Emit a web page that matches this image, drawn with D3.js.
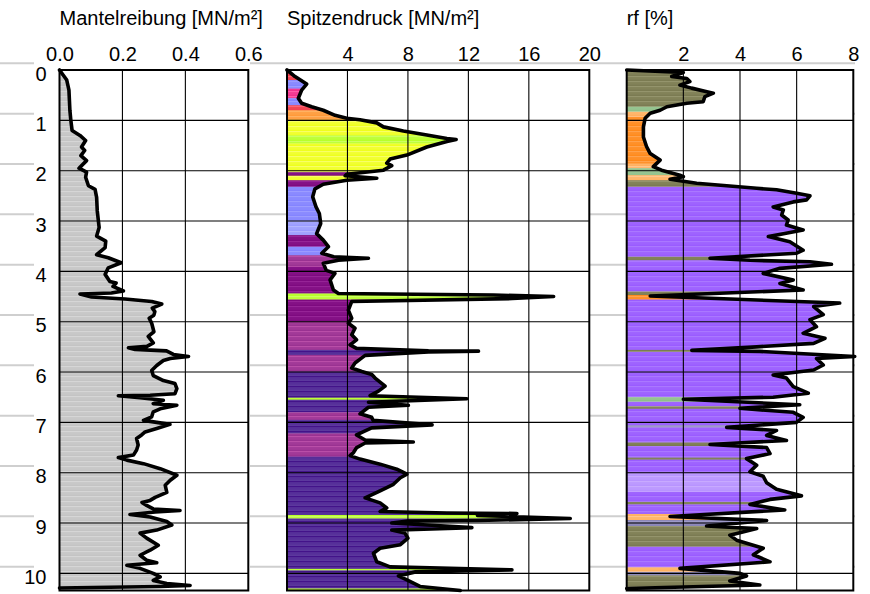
<!DOCTYPE html>
<html>
<head>
<meta charset="utf-8"/>
<script src="https://cdn.jsdelivr.net/npm/d3@7/dist/d3.min.js"></script>
<style>
  body { margin:0; background:#fff; }
  svg text { font-family:"Liberation Sans", Arial, sans-serif; font-size:20px; fill:#000; }
</style>
</head>
<body>
<script>
// depth ticks (m)
var depthTicks = [0,1,2,3,4,5,6,7,8,9,10];

// Mantelreibung qs [MN/m²]
var qsDepth = [0,0.2,0.4,0.8,1.0,1.2,1.3,1.4,1.53,1.6,1.7,1.8,1.95,2.03,2.13,2.3,2.37,2.53,2.8,3.13,3.3,3.4,3.53,3.67,3.73,3.83,3.93,4.06,4.2,4.23,4.3,4.39,4.43,4.45,4.51,4.55,4.6,4.65,4.73,4.8,4.87,4.93,5.03,5.2,5.29,5.42,5.49,5.52,5.55,5.58,5.65,5.69,5.73,5.77,5.87,5.97,6.07,6.17,6.23,6.33,6.43,6.46,6.47,6.51,6.56,6.63,6.66,6.73,6.79,6.89,6.96,7.0,7.04,7.12,7.19,7.25,7.32,7.45,7.55,7.65,7.7,7.75,7.82,7.92,8.05,8.15,8.25,8.39,8.49,8.55,8.59,8.65,8.72,8.75,8.78,8.83,8.88,8.97,9.04,9.14,9.2,9.3,9.44,9.54,9.64,9.74,9.79,9.84,9.9,10.0,10.07,10.14,10.2,10.24,10.26,10.29];
var qsValue = [0,0.023,0.03,0.033,0.036,0.04,0.065,0.083,0.07,0.08,0.068,0.086,0.062,0.086,0.083,0.092,0.113,0.118,0.12,0.126,0.118,0.147,0.145,0.118,0.155,0.196,0.155,0.145,0.16,0.18,0.17,0.203,0.165,0.065,0.102,0.208,0.293,0.325,0.295,0.303,0.3,0.285,0.293,0.3,0.282,0.298,0.278,0.219,0.24,0.34,0.362,0.41,0.352,0.33,0.309,0.293,0.298,0.33,0.367,0.373,0.367,0.288,0.187,0.256,0.33,0.298,0.373,0.32,0.298,0.293,0.267,0.309,0.351,0.309,0.272,0.261,0.245,0.25,0.245,0.235,0.187,0.214,0.267,0.32,0.373,0.352,0.336,0.341,0.304,0.288,0.262,0.277,0.298,0.383,0.304,0.224,0.288,0.341,0.357,0.309,0.256,0.277,0.314,0.288,0.256,0.277,0.309,0.214,0.256,0.298,0.32,0.298,0.341,0.415,0.32,0];

// Spitzendruck qc [MN/m²]
var qcDepth = [0,0.13,0.28,0.4,0.56,0.66,0.73,0.8,0.9,0.96,0.99,1.05,1.13,1.21,1.29,1.36,1.38,1.42,1.53,1.69,1.77,1.85,1.9,1.99,2.07,2.1,2.15,2.19,2.27,2.36,2.52,2.72,2.85,3.05,3.25,3.38,3.51,3.64,3.71,3.74,3.78,3.84,3.98,4.04,4.17,4.37,4.44,4.47,4.5,4.54,4.6,4.77,4.93,5.03,5.13,5.26,5.36,5.46,5.53,5.58,5.585,5.6,5.67,5.72,5.82,5.92,5.99,6.05,6.12,6.28,6.38,6.47,6.53,6.6,6.66,6.7,6.83,6.9,6.96,7.05,7.11,7.25,7.35,7.39,7.41,7.5,7.6,7.66,7.73,7.83,7.93,8.03,8.1,8.23,8.36,8.5,8.6,8.7,8.77,8.8,8.81,8.85,8.91,8.95,8.96,9.0,9.09,9.14,9.2,9.3,9.43,9.5,9.6,9.77,9.87,9.93,9.97,10.05,10.13,10.26,10.34];
var qcValue = [0,0.53,1.3,0.97,0.75,0.97,1.63,2.4,3.18,3.95,4.83,5.94,6.38,7.7,9.25,10.58,11.19,10.58,9.25,7.93,6.82,6.6,6.93,6.38,3.95,3.85,5.94,3.95,2.4,1.85,1.7,1.92,2.14,2.23,1.96,2.4,2.74,2.3,3.09,5.39,3.4,2.4,2.6,3.17,2.85,3.07,3.4,13.66,17.64,14.9,4.28,4.06,4.28,4.06,4.5,4.28,4.6,4.17,4.6,9.36,12.67,9.36,5.17,4.95,4.5,4.28,4.95,5.61,5.83,6.49,6.05,5.5,11.9,5.39,8.03,5.39,4.83,5.6,5.7,9.6,5.6,4.6,5.17,8.36,5.17,4.61,4.4,4.17,4.83,6.16,7.26,7.93,7.5,7.04,6.16,5.17,6.16,6.6,6.16,10.58,15.21,12.6,18.74,12.6,8.0,6.93,12.23,6.93,7.8,8.0,7.5,6.16,5.72,5.94,6.82,14.88,8.5,7.37,7.93,8.8,11.46];

// Reibungsverhältnis rf [%]
var rfDepth = [0,0.05,0.13,0.17,0.23,0.3,0.36,0.43,0.46,0.53,0.63,0.66,0.73,0.8,0.86,0.96,1.13,1.33,1.52,1.66,1.79,1.92,1.99,2.09,2.12,2.17,2.25,2.3,2.35,2.38,2.45,2.5,2.58,2.62,2.72,2.78,2.88,2.98,3.08,3.18,3.25,3.31,3.41,3.58,3.64,3.74,3.78,3.81,3.86,3.94,4.04,4.17,4.24,4.37,4.49,4.51,4.63,4.7,4.86,4.96,5.1,5.23,5.33,5.43,5.5,5.57,5.59,5.69,5.73,5.86,5.96,6.06,6.12,6.29,6.42,6.5,6.54,6.65,6.72,6.8,6.9,7.0,7.1,7.16,7.26,7.36,7.44,7.5,7.62,7.72,7.85,7.98,8.07,8.2,8.33,8.46,8.53,8.63,8.74,8.87,8.95,9.06,9.11,9.24,9.34,9.5,9.63,9.77,9.9,10.0,10.05,10.15,10.23,10.3];
var rfValue = [0,2.0,1.59,2.12,2.23,1.88,2.29,2.83,3.06,2.76,2.7,2.12,1.42,1.18,0.83,0.65,0.59,0.59,0.7,0.83,1.18,0.94,1.23,1.88,2.0,1.53,2.47,3.53,4.59,5.29,6.0,6.47,6.35,5.88,5.17,5.53,5.47,5.7,5.64,6.23,5.58,5.0,5.76,6.23,6.0,2.94,4.35,6.47,7.23,5.41,4.82,5.88,5.41,6.23,0.83,1.76,7.52,6.6,6.94,6.47,6.7,6.23,7.0,6.6,4.59,2.3,4.7,8.05,6.7,6.94,6.6,5.17,5.64,5.88,6.41,5.17,2.0,6.11,4.0,5.88,6.23,5.99,3.53,5.29,4.94,5.64,2.94,4.94,5.06,4.23,4.59,4.35,4.82,4.94,5.29,6.17,5.06,4.35,5.58,1.53,4.94,2.82,4.59,3.64,3.88,4.82,4.47,5.06,1.88,4.0,4.23,3.64,4.7,0];

// soil layers (colour classes) behind the qc curve
var qcLayerBounds = [0,0.2,0.37,0.56,0.7,0.8,0.99,1.3,1.46,2.03,2.1,2.19,2.32,2.98,3.28,3.51,3.68,3.91,4.44,4.56,5.0,5.56,5.66,5.99,6.51,6.55,6.8,6.95,7.22,7.68,8.84,8.91,9.91,9.94,10.3,10.4];
var qcLayerClass = ["red","blue","pink","blue","red","orange","yellow","ygreen","yellow","purple","yellow","purple","blue","lblue","purple","blue","magenta","purple","ygreen","purple","magenta","violet","magenta","violet","ygreen","violet","magenta","violet","magenta","violet","ygreen","violet","ygreen","violet","ygreen"];

// soil layers behind the rf curve
var rfLayerBounds = [0,0.73,0.83,0.93,1.86,1.95,2.09,2.19,2.32,3.71,3.78,4.4,4.47,4.56,5.56,5.6,6.5,6.59,6.68,6.73,7.06,7.1,7.4,7.47,7.7,7.74,8.0,8.38,8.58,8.63,8.82,8.94,9.06,9.47,9.88,9.97,10.04,10.27,10.4];
var rfLayerClass = ["olive","lgreen","lorange","rorange","lorange","lgreen","lorange","olive","lilac","olive","lilac","olive","rorange","lilac","olive","lilac","lgreen","lilac","olive","lilac","greyblue","lilac","olive","lilac","olive","lilac","llilac","lilac","olive","lilac","lorange","greyblue","olive","lilac","lorange","greyblue","olive","greyblue"];

var qsTicks = [0,0.2,0.4,0.6];
var qcTicks = [4,8,12,16,20];
var rfTicks = [2,4,6,8];

// colours: [base, stripe]
var palette = {
  grey:["#c4c4c4","#d6d6d6"],
  red:["#ef3c48","#ff6472"], pink:["#f0308c","#ff5ca8"], blue:["#8484ff","#9c9cff"], lblue:["#9a9cff","#b4b6ff"],
  orange:["#ff9a3a","#ffb262"], yellow:["#eeff1e","#f8ff66"], ygreen:["#b8ff2a","#ccff62"],
  purple:["#7e0a80","#962496"], magenta:["#9a3292","#b94ea8"], violet:["#5c389e","#43138a"],
  olive:["#7b7b52","#94946c"], lgreen:["#8fc08a","#a6d0a0"], lorange:["#ffb060","#ffc68e"],
  rorange:["#ff8a1c","#ffa24c"], lilac:["#9a5cff","#aa78ff"], llilac:["#b894ff","#c8aaff"],
  greyblue:["#8a86b8","#9e9aca"]
};

var width = 870, height = 594;
var y = d3.scaleLinear().domain([0,10.34]).range([70,590.5]);

var svg = d3.select("body").append("svg").attr("width",width).attr("height",height);
var defs = svg.append("defs");

Object.keys(palette).forEach(function(k){
  var p = defs.append("pattern").attr("id","pat-"+k).attr("patternUnits","userSpaceOnUse")
    .attr("width",20).attr("height",5);
  p.append("rect").attr("width",20).attr("height",5).attr("fill",palette[k][0]);
  p.append("rect").attr("y",1).attr("width",20).attr("height",1.3).attr("fill",palette[k][1]);
  p.append("rect").attr("y",3.6).attr("width",20).attr("height",0.7).attr("fill",palette[k][1]).attr("opacity",0.6);
});

// grey horizontal background lines
svg.append("g").selectAll("line").data(depthTicks).enter().append("line")
  .attr("x1",0).attr("x2",855)
  .attr("y1",function(d){return y(d)-6.7;}).attr("y2",function(d){return y(d)-6.7;})
  .attr("stroke","#cfcfcf").attr("stroke-width",2);

// white block behind first panel + depth labels
svg.append("rect").attr("x",34).attr("y",38).attr("width",216).attr("height",height-38).attr("fill","#fff");

var panels = [
  {title:"Mantelreibung [MN/m²]", x0:59.5, x1:248.3, max:0.6, ticks:qsTicks, fmt:d3.format(".1f"),
   depth:qsDepth, value:qsValue, bounds:[0,10.4], cls:["grey"]},
  {title:"Spitzendruck [MN/m²]", x0:287, x1:589.3, max:20, ticks:qcTicks, fmt:d3.format("d"),
   depth:qcDepth, value:qcValue, bounds:qcLayerBounds, cls:qcLayerClass},
  {title:"rf [%]", x0:626.7, x1:853.3, max:8, ticks:rfTicks, fmt:d3.format("d"),
   depth:rfDepth, value:rfValue, bounds:rfLayerBounds, cls:rfLayerClass}
];

panels.forEach(function(p,pi){
  var x = d3.scaleLinear().domain([0,p.max]).range([p.x0,p.x1]);
  var g = svg.append("g");

  g.append("rect").attr("x",p.x0).attr("y",y(0)).attr("width",p.x1-p.x0).attr("height",y.range()[1]-y(0)).attr("fill","#fff");

  g.append("text").attr("x",p.x0).attr("y",24.5).text(p.title);

  var ax = g.append("g").attr("transform","translate(0,64)")
    .call(d3.axisTop(x).tickValues(p.ticks).tickSize(0).tickPadding(3).tickFormat(p.fmt));
  ax.select(".domain").remove();
  ax.selectAll("text").attr("fill",null);
  ax.attr("font-size",null).attr("font-family",null);

  var pts = p.depth.map(function(d,i){return [d,p.value[i]];});
  var area = d3.area().y(function(d){return y(d[0]);}).x0(x(0)).x1(function(d){return x(d[1]);});
  var clipId = "clip"+pi;
  defs.append("clipPath").attr("id",clipId).append("path").attr("d",area(pts));

  var fill = g.append("g").attr("clip-path","url(#"+clipId+")");
  fill.selectAll("rect").data(p.cls).enter().append("rect")
    .attr("x",p.x0).attr("width",p.x1-p.x0+40)
    .attr("y",function(c,i){return y(p.bounds[i]);})
    .attr("height",function(c,i){return y(p.bounds[i+1])-y(p.bounds[i])+0.3;})
    .attr("fill",function(c){return "url(#pat-"+c+")";});

  // grid
  var grid = g.append("g").attr("stroke","#000").attr("stroke-width",1.1);
  grid.selectAll("line.v").data(p.ticks.filter(function(t){return t>0 && t<p.max;})).enter().append("line")
    .attr("x1",function(t){return x(t);}).attr("x2",function(t){return x(t);})
    .attr("y1",y(0)).attr("y2",y.range()[1]);
  grid.selectAll("line.h").data(depthTicks.filter(function(d){return d>0;})).enter().append("line")
    .attr("x1",p.x0).attr("x2",p.x1)
    .attr("y1",function(d){return y(d);}).attr("y2",function(d){return y(d);});

  g.append("rect").attr("x",p.x0).attr("y",y(0)).attr("width",p.x1-p.x0).attr("height",y.range()[1]-y(0))
    .attr("fill","none").attr("stroke","#000").attr("stroke-width",2);

  var line = d3.line().y(function(d){return y(d[0]);}).x(function(d){return x(d[1]);});
  g.append("path").attr("d",line(pts)).attr("fill","none").attr("stroke","#000")
    .attr("stroke-width",3.6).attr("stroke-linejoin","round").attr("stroke-linecap","round");
});

// depth axis
var yAxis = svg.append("g").attr("transform","translate(46.5,0)")
  .call(d3.axisLeft(y).tickValues(depthTicks).tickSize(0).tickPadding(0).tickFormat(d3.format("d")));
yAxis.select(".domain").remove();
yAxis.attr("font-size",null).attr("font-family",null);
yAxis.selectAll("text").attr("dy","0.5em").attr("fill",null);
</script>
</body>
</html>
